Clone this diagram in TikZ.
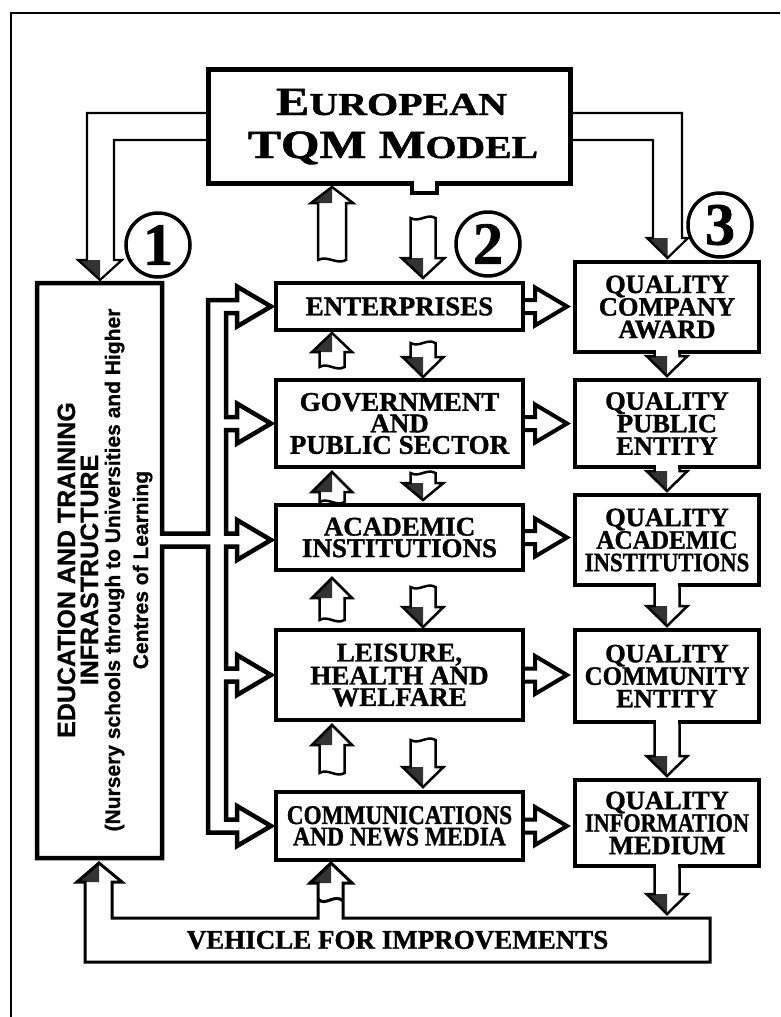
\documentclass[tikz,border=0pt]{standalone}
\usepackage{fontspec}
\setmainfont{Liberation Serif}[BoldFeatures={FakeBold=1.2}]
\newfontfamily\lsans{Liberation Sans}[BoldFeatures={FakeBold=0.8}]
\usepackage{graphicx}
\usetikzlibrary{calc}
\newcommand\lblmid{\bfseries\fontsize{27}{21.5}\selectfont}
\newcommand\lblright{\bfseries\fontsize{26.5}{22.5}\selectfont}
% up arrow: x, ytip, ybase, ybottom, shaft half, head half
\newcommand\uparr[6]{%
  \fill[headfill] (#1-#6,#3) -- (#1,#2) -- (#1,#3) -- cycle;
  \draw[marrow] (#1-#5,#4) -- (#1-#5,#3) -- (#1-#6,#3) -- (#1,#2) -- (#1+#6,#3) -- (#1+#5,#3) -- (#1+#5,#4)
     .. controls (#1+4,#4+5) and (#1-4,#4-5) .. (#1-#5,#4) -- cycle;}
% down arrow: x, ytop, ybase, ytip, shaft half, head half
\newcommand\dnarr[6]{%
  \fill[headfill] (#1-#6,#3) -- (#1,#4) -- (#1,#3) -- cycle;
  \draw[marrow] (#1-#5,#2) -- (#1-#5,#3) -- (#1-#6,#3) -- (#1,#4) -- (#1+#6,#3) -- (#1+#5,#3) -- (#1+#5,#2)
     .. controls (#1+4,#2-5) and (#1-4,#2+5) .. (#1-#5,#2) -- cycle;}
% right column arrow from node #1 down to point #2
\newcommand\rdown[2]{%
  \fill[white] ($(#1.south)+(-11,-3)$) rectangle ($(#1.south)+(11,3)$);
  \fill[headfill] ($(#2)+(-20.5,-24)$) -- ($(#2)+(0,-4)$) -- ($(#2)+(0,-24)$) -- cycle;
  \draw[marrow] ($(#1.south)+(-12.5,-2)$) -- ($(#2)+(-12.5,-24)$) -- ($(#2)+(-20.5,-24)$) -- ($(#2)+(0,-4)$)
     -- ($(#2)+(20.5,-24)$) -- ($(#2)+(12.5,-24)$) -- ($(#1.south)+(12.5,-2)$);}
% horizontal arrow from node #1 to point #2
\newcommand\hright[2]{%
  \draw[harrow] ($(#1.east)+(0,-6.5)$) -- ($(#2)+(-40,-6.5)$) -- ($(#2)+(-40,-19)$) -- ($(#2)+(-8,0)$)
     -- ($(#2)+(-40,19)$) -- ($(#2)+(-40,6.5)$) -- ($(#1.east)+(0,6.5)$);}
\begin{document}
\begin{tikzpicture}[x=1pt,y=-1pt,line join=miter,
  midbox/.style={draw,line width=4.5pt,inner sep=0pt,outer sep=0pt,align=center,
     minimum width=247pt,font=\lblmid},
  rbox/.style={draw,line width=4.5pt,inner sep=0pt,outer sep=0pt,align=center,
     minimum width=184pt,font=\lblright},
  headfill/.style={fill=black!80},
  marrow/.style={draw,line width=2.5pt,fill=none},
  harrow/.style={draw,line width=4pt},
  tarrow/.style={draw,line width=2.2pt},
  pipe/.style={draw,line width=4.5pt},
  vpath/.style={draw,line width=3pt},
  circ/.style={circle,draw,line width=3.5pt,minimum size=64pt,inner sep=0pt,
     font=\bfseries\fontsize{60}{60}\selectfont},
  edutxt/.style={rotate=90,anchor=base,font=\lsans\bfseries\fontsize{25}{25}\selectfont},
  edusub/.style={rotate=90,anchor=base,font=\lsans\bfseries\fontsize{21}{21}\selectfont}]
\useasboundingbox (0,0) rectangle (780,1017);
% frame
\draw[line width=1.5pt] (11,1017) -- (11,13) -- (780,13);

% TQM box
\node[draw,line width=5pt,minimum width=362pt,minimum height=114pt,inner sep=0pt,outer sep=0pt] (tqm) at (389,126) {};
\fill[white] (414,180) rectangle (435,186);
\draw[line width=3.5pt] (412,181) -- (412,193) -- (437,193) -- (437,181);
\node[anchor=base,font=\bfseries] (tqmA) at (391.5,115)
  {\scalebox{1.25}[1]{\fontsize{40}{40}\selectfont E\fontsize{32}{40}\selectfont UROPEAN}};
\node[anchor=base,font=\bfseries] (tqmB) at (393,158)
  {\scalebox{1.24}[1]{\fontsize{40}{40}\selectfont TQM M\fontsize{32}{40}\selectfont ODEL}};

% middle boxes
\node[midbox,minimum height=47pt] (ent) at (399.5,306.5) {ENTERPRISES};
\node[midbox,minimum height=87pt] (gov) at (399.5,423.5) {GOVERNMENT\\AND\\PUBLIC SECTOR};
\node[midbox,minimum height=65pt] (acad) at (399.5,537.5) {ACADEMIC\\INSTITUTIONS};
\node[midbox,minimum height=90pt] (leis) at (399.5,675) {LEISURE,\\HEALTH AND\\WELFARE};
\node[midbox,minimum height=68pt] (comm) at (399.5,826) {\scalebox{0.86}[1]{COMMUNICATIONS}\\\scalebox{0.87}[1]{AND NEWS MEDIA}};

% right boxes
\node[rbox,minimum height=90pt] (qca) at (667,307) {QUALITY\\COMPANY\\AWARD};
\node[rbox,minimum height=87pt] (qpe) at (667,423.5) {QUALITY\\PUBLIC\\ENTITY};
\node[rbox,minimum height=90pt] (qai) at (667,540) {QUALITY\\\scalebox{0.95}[1]{ACADEMIC}\\\scalebox{0.86}[1]{INSTITUTIONS}};
\node[rbox,minimum height=92pt] (qce) at (667,676) {QUALITY\\\scalebox{0.94}[1]{COMMUNITY}\\ENTITY};
\node[rbox,minimum height=86pt] (qim) at (667,823) {QUALITY\\\scalebox{0.84}[1]{INFORMATION}\\MEDIUM};

% education box + distribution pipe
\node[minimum width=125pt,minimum height=575pt,inner sep=0pt,outer sep=0pt] (edu) at (99.5,570.5) {};
\draw[pipe] (162,546.5) -- (162,858) -- (37,858) -- (37,283) -- (162,283) -- (162,533.5)
  -- (208,533.5) -- (208,300) -- (237,300) -- (237,286.5) -- (271,306.5) -- (237,326.5) -- (237,313)
  -- (226,313) -- (226,417) -- (237,417) -- (237,403.5) -- (271,423.5) -- (237,443.5) -- (237,430)
  -- (226,430) -- (226,533.5) -- (237,533.5) -- (237,520) -- (271,540) -- (237,560) -- (237,546.5)
  -- (226,546.5) -- (226,668.5) -- (237,668.5) -- (237,655) -- (271,675) -- (237,695) -- (237,681.5)
  -- (226,681.5) -- (226,819.5) -- (237,819.5) -- (237,806) -- (271,826) -- (237,846) -- (237,832.5)
  -- (208,832.5) -- (208,546.5) -- cycle;
\node[edutxt] (edu1) at (75,570) {EDUCATION AND TRAINING};
\node[edutxt] (edu2) at (98,570) {INFRASTRUCTURE};
\node[edusub] (edu3) at (120,570) {(Nursery schools through to Universities and Higher};
\node[edusub] (edu4) at (148,570) {Centres of Learning};

% circled numbers
\node[circ] (n1) at (158,245) {1};
\node[circ] (n2) at (488,244) {2};
\node[circ] (n3) at (720,225) {3};

% TQM side arrows
\fill[headfill] (78,260) -- (100,280) -- (100,260) -- cycle;
\draw[tarrow] (tqm.west |- 0,113) -- (87,113) -- (87,260) -- (78,260) -- (100,280) -- (122,260)
  -- (114,260) -- (114,140) -- (tqm.west |- 0,140);
\fill[headfill] (647,238) -- (667.5,258) -- (667.5,238) -- cycle;
\draw[tarrow] (tqm.east |- 0,113) -- (682,113) -- (682,238) -- (688,238) -- (667.5,258) -- (647,238)
  -- (653,238) -- (653,140) -- (tqm.east |- 0,140);

% TQM <-> enterprises
\uparr{332}{187}{203}{260}{14}{21}
\dnarr{423}{218}{258}{278}{12.5}{21.5}

% middle column up/down arrows
\uparr{332}{333}{352}{367}{12.5}{20}
\dnarr{423}{343}{357}{377}{12.5}{20.5}
\uparr{332}{472}{492}{502}{12.5}{20}
\dnarr{423}{473}{483}{500}{12.5}{20.5}
\uparr{332}{578}{598}{620}{12.5}{20}
\dnarr{423}{587}{607}{627}{12.5}{20.5}
\uparr{332}{725}{745}{773}{12.5}{20}
\dnarr{423}{740}{767}{787}{12.5}{20.5}

% horizontal arrows
\hright{ent}{ent.east -| qca.west}
\hright{gov}{gov.east -| qpe.west}
\hright{acad}{acad.east -| qai.west}
\hright{leis}{leis.east -| qce.west}
\hright{comm}{comm.east -| qim.west}

% vehicle for improvements
\node[minimum width=625pt,minimum height=44pt,inner sep=0pt,outer sep=0pt,font=\lblmid] (veh) at (397.5,940) {VEHICLE FOR IMPROVEMENTS};
\fill[headfill] (77,882) -- (99,863) -- (99,882) -- cycle;
\fill[headfill] (310,883) -- (331,863) -- (331,883) -- cycle;
\draw[vpath] (85,882) -- (85,962) -- (710,962) -- (710,918) -- (343,918) -- (343,883) -- (352,883)
  -- (331,863) -- (310,883) -- (318,883) -- (318,918) -- (112,918) -- (112,882) -- (122,882)
  -- (99,863) -- (77,882) -- cycle;
\draw[line width=3pt] (318,899) .. controls (325,907) and (335,893) .. (343,901);

% right column arrows
\rdown{qca}{qpe.north}
\rdown{qpe}{qai.north}
\rdown{qai}{qce.north}
\rdown{qce}{qim.north}
\rdown{qim}{qim.south |- veh.north}
\end{tikzpicture}
\end{document}
